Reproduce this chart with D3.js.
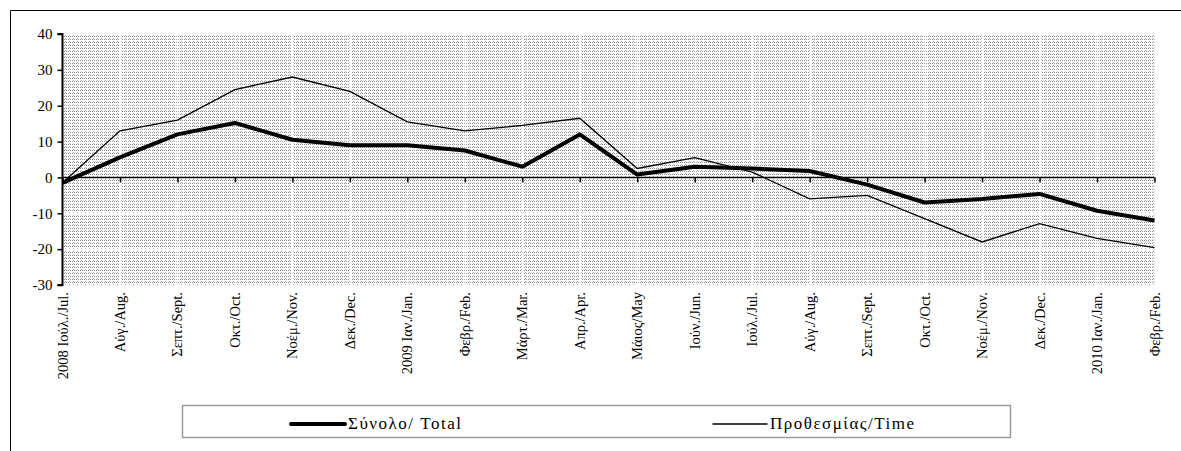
<!DOCTYPE html>
<html><head><meta charset="utf-8">
<script src="https://cdn.jsdelivr.net/npm/d3@7"></script>
<style>body{margin:0;background:#fff}svg{display:block}text{font-family:"Liberation Serif","Times New Roman","DejaVu Serif",serif}</style>
</head><body>
<svg id="c" width="1181" height="451"></svg>
<script>
const categories = ["2008 Ιούλ./Jul.","Αύγ./Aug.","Σεπτ./Sept.","Οκτ./Oct.","Νοέμ./Nov.","Δεκ./Dec.","2009 Ιαν./Jan.","Φεβρ./Feb.","Μάρτ./Mar.","Απρ./Apr.","Μάιος/May","Ιούν./Jun.","Ιούλ./Jul.","Αύγ./Aug.","Σεπτ./Sept.","Οκτ./Oct.","Νοέμ./Nov.","Δεκ./Dec.","2010 Ιαν./Jan.","Φεβρ./Feb."];
const totalValues = [-1.5,5.6,12,15.2,10.5,9,9,7.5,3,12,0.8,3,2.5,1.8,-2,-7,-6,-4.6,-9.3,-12];
const timeValues = [-1.5,13,16,24.5,28,24,15.5,13,14.5,16.5,2.5,5.5,1.5,-6,-5,-11.5,-18,-12.9,-17,-19.6];
const yTicks = [40,30,20,10,0,-10,-20,-30];
const seriesNames = ["Σύνολο/ Total","Προθεσμίας/Time"];

const svg = d3.select("#c");
const L = 62.5, R = 1154.5, T = 34, B = 285;
const idx = d3.range(categories.length);
const x = d3.scalePoint().domain(idx).range([L, R]);
const y = d3.scaleLinear().domain([-30, 40]).range([B, T]);

// frame
svg.append("line").attr("x1",10.5).attr("x2",1181).attr("y1",10.5).attr("y2",10.5).attr("stroke","#000").attr("stroke-width",1);
svg.append("line").attr("x1",10.5).attr("x2",10.5).attr("y1",10.5).attr("y2",451).attr("stroke","#000").attr("stroke-width",1);

// pattern
const defs = svg.append("defs");
const pat = defs.append("pattern").attr("id","dots").attr("patternUnits","userSpaceOnUse")
  .attr("width",4).attr("height",3);
pat.append("rect").attr("width",4).attr("height",3).attr("fill","#fff");
pat.append("rect").attr("x",0).attr("y",0).attr("width",1).attr("height",1).attr("fill","#8a8a8a");
pat.append("rect").attr("x",2).attr("y",0).attr("width",1).attr("height",1).attr("fill","#8a8a8a");
pat.append("rect").attr("x",1).attr("y",2).attr("width",1).attr("height",1).attr("fill","#b0b0b0");
svg.append("rect").attr("x",L).attr("y",T).attr("width",R-L).attr("height",B-T).attr("fill","url(#dots)");

// white gaps at gridlines
svg.append("g").selectAll("line").data(idx.slice(1)).join("line")
  .attr("x1",d=>Math.round(x(d))+0.5).attr("x2",d=>Math.round(x(d))+0.5).attr("y1",T).attr("y2",B)
  .attr("stroke","#fff").attr("stroke-width",1.5);
svg.append("g").selectAll("line").data(yTicks.filter(v=>v!==40&&v!==-30)).join("line")
  .attr("x1",L).attr("x2",R).attr("y1",d=>Math.round(y(d))+0.5).attr("y2",d=>Math.round(y(d))+0.5)
  .attr("stroke","#fff").attr("stroke-width",1.5);

// y axis
const yAxis = d3.axisLeft(y).tickValues(yTicks).tickSize(5).tickPadding(5).tickFormat(d3.format("d"));
const gy = svg.append("g").attr("transform",`translate(${L},0)`).call(yAxis);
gy.select(".domain").attr("stroke","#000").attr("stroke-width",2).attr("d",`M-5,${T}H0V${B}H-5`);
gy.selectAll(".tick line").attr("stroke","#000").attr("stroke-width",1.5);
gy.selectAll(".tick text").attr("font-family",null).attr("font-size",15).attr("fill","#000").text(d=>d<0?"-"+Math.abs(d):d);

// x axis at zero
const xAxis = d3.axisBottom(x).tickSize(5).tickFormat("");
const gx = svg.append("g").attr("transform",`translate(0,${y(0)})`).call(xAxis);
gx.select(".domain").attr("stroke","#000").attr("stroke-width",1.5).attr("d",`M${L},0H${R}`);
gx.selectAll(".tick line").attr("stroke","#000").attr("stroke-width",1.5);

// x labels (rotated)
svg.append("g").selectAll("text").data(idx).join("text")
  .attr("transform",d=>`translate(${x(d)+5},${B+7}) rotate(-90)`)
  .attr("text-anchor","end").attr("font-size",14.5).attr("fill","#000")
  .text(d=>categories[d]);

// lines
const line = d3.line().x((d,i)=>x(i)).y(d=>y(d));
svg.append("path").datum(timeValues).attr("d",line).attr("fill","none").attr("stroke","#000").attr("stroke-width",1.3).attr("stroke-linejoin","miter");
svg.append("path").datum(totalValues).attr("d",line).attr("fill","none").attr("stroke","#000").attr("stroke-width",4).attr("stroke-linejoin","round");

// legend
const lg = svg.append("g");
lg.append("rect").attr("x",182.5).attr("y",405.5).attr("width",828).attr("height",32).attr("fill","#fff").attr("stroke","#9a9a9a").attr("stroke-width",1.5);
const legItems = [{name:seriesNames[0],w:4,x0:291},{name:seriesNames[1],w:1.3,x0:713}];
legItems.forEach(it=>{
  lg.append("line").attr("x1",it.x0).attr("x2",it.x0+54).attr("y1",424).attr("y2",424).attr("stroke","#000").attr("stroke-width",it.w).attr("stroke-linecap","round");
  lg.append("text").attr("x",it.x0+57).attr("y",429).attr("font-size",17).attr("letter-spacing",1.5).attr("fill","#000").text(it.name);
});
</script>
</body></html>
